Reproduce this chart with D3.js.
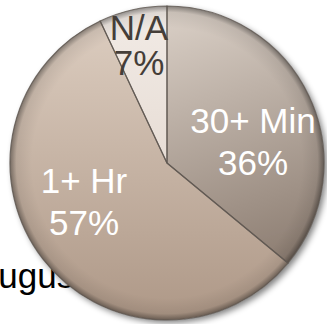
<!DOCTYPE html>
<html>
<head>
<meta charset="utf-8">
<script src="https://cdn.jsdelivr.net/npm/d3@7"></script>
<style>
  html, body { margin: 0; padding: 0; background: #fff; overflow: hidden; }
  text { font-family: "Liberation Sans", Arial, sans-serif; }
</style>
</head>
<body>
<script>
// slice data, clockwise from 12 o'clock
const categories = ['30+ Min', '1+ Hr', 'N/A']
const values = [36, 57, 7]
const labels = ['36%', '57%', '7%']

const width = 327
const height = 324
const cx = 167
const cy = 163
const radius = 157

// per-slice look: top and bottom gradient colours, label colour
const topColors = ['#ddd3ca', '#decfc2', '#f2ebe6']
const bottomColors = ['#807064', '#ae9887', '#dccfc4']
const textColors = ['#ffffff', '#ffffff', '#453e39']
// label anchor offsets from centre (x, first-line baseline)
const labelPos = [[86, -30], [-83, 30], [-28, -123]]

const svg = d3.select('body').append('svg')
  .attr('width', width)
  .attr('height', height)

const defs = svg.append('defs')

// gradients live in the chart group's coordinates (origin = pie centre)
categories.forEach((c, i) => {
  const g = defs.append('linearGradient')
    .attr('id', 'grad' + i)
    .attr('gradientUnits', 'userSpaceOnUse')
    .attr('x1', i === 0 ? -20 : 0).attr('y1', -radius)
    .attr('x2', i === 0 ? 80 : 0).attr('y2', radius)
  g.append('stop').attr('offset', 0).attr('stop-color', topColors[i])
  g.append('stop').attr('offset', 1).attr('stop-color', bottomColors[i])
})

// darkened rim for the bevel look
const rim = defs.append('radialGradient')
  .attr('id', 'rim')
  .attr('gradientUnits', 'userSpaceOnUse')
  .attr('cx', 0).attr('cy', 0).attr('r', radius)
rim.append('stop').attr('offset', 0.86).attr('stop-color', '#000').attr('stop-opacity', 0)
rim.append('stop').attr('offset', 0.96).attr('stop-color', '#000').attr('stop-opacity', 0.08)
rim.append('stop').attr('offset', 1).attr('stop-color', '#000').attr('stop-opacity', 0.4)

const shadow = defs.append('filter')
  .attr('id', 'shadow')
  .attr('x', '-20%').attr('y', '-20%')
  .attr('width', '140%').attr('height', '140%')
shadow.append('feGaussianBlur').attr('in', 'SourceAlpha').attr('stdDeviation', 3)
shadow.append('feOffset').attr('dx', 3).attr('dy', 3)
shadow.append('feComponentTransfer').append('feFuncA').attr('type', 'linear').attr('slope', 0.5)
const merge = shadow.append('feMerge')
merge.append('feMergeNode')
merge.append('feMergeNode').attr('in', 'SourceGraphic')

// partly hidden title behind the pie
svg.append('text')
  .attr('x', -25)
  .attr('y', 288)
  .attr('font-size', 35)
  .attr('fill', '#000')
  .text('August')

const pie = d3.pie().sort(null).value(d => d)
const arcs = pie(values)
const arc = d3.arc().innerRadius(0).outerRadius(radius)

const chart = svg.append('g')
  .attr('transform', 'translate(' + cx + ',' + cy + ')')

chart.append('g')
  .attr('filter', 'url(#shadow)')
  .selectAll('path.slice')
  .data(arcs).enter()
  .append('path')
  .attr('class', 'slice')
  .attr('d', arc)
  .attr('fill', (d, i) => 'url(#grad' + i + ')')

chart.selectAll('path.rim')
  .data(arcs).enter()
  .append('path')
  .attr('class', 'rim')
  .attr('d', arc)
  .attr('fill', 'url(#rim)')

chart.selectAll('path.border')
  .data(arcs).enter()
  .append('path')
  .attr('class', 'border')
  .attr('d', arc)
  .attr('fill', 'none')
  .attr('stroke', '#5e5650')
  .attr('stroke-width', 1.2)
  .attr('stroke-opacity', 0.8)

// labels
const lab = chart.selectAll('g.label')
  .data(arcs).enter()
  .append('g')
  .attr('class', 'label')
  .attr('transform', (d, i) => 'translate(' + labelPos[i][0] + ',' + labelPos[i][1] + ')')

lab.append('text')
  .attr('text-anchor', 'middle')
  .attr('font-size', 35)
  .attr('fill', (d, i) => textColors[i])
  .text((d, i) => categories[i])

lab.append('text')
  .attr('text-anchor', 'middle')
  .attr('y', (d, i) => i === 2 ? 35 : 42)
  .attr('font-size', 35)
  .attr('fill', (d, i) => textColors[i])
  .text((d, i) => labels[i])
</script>
</body>
</html>
